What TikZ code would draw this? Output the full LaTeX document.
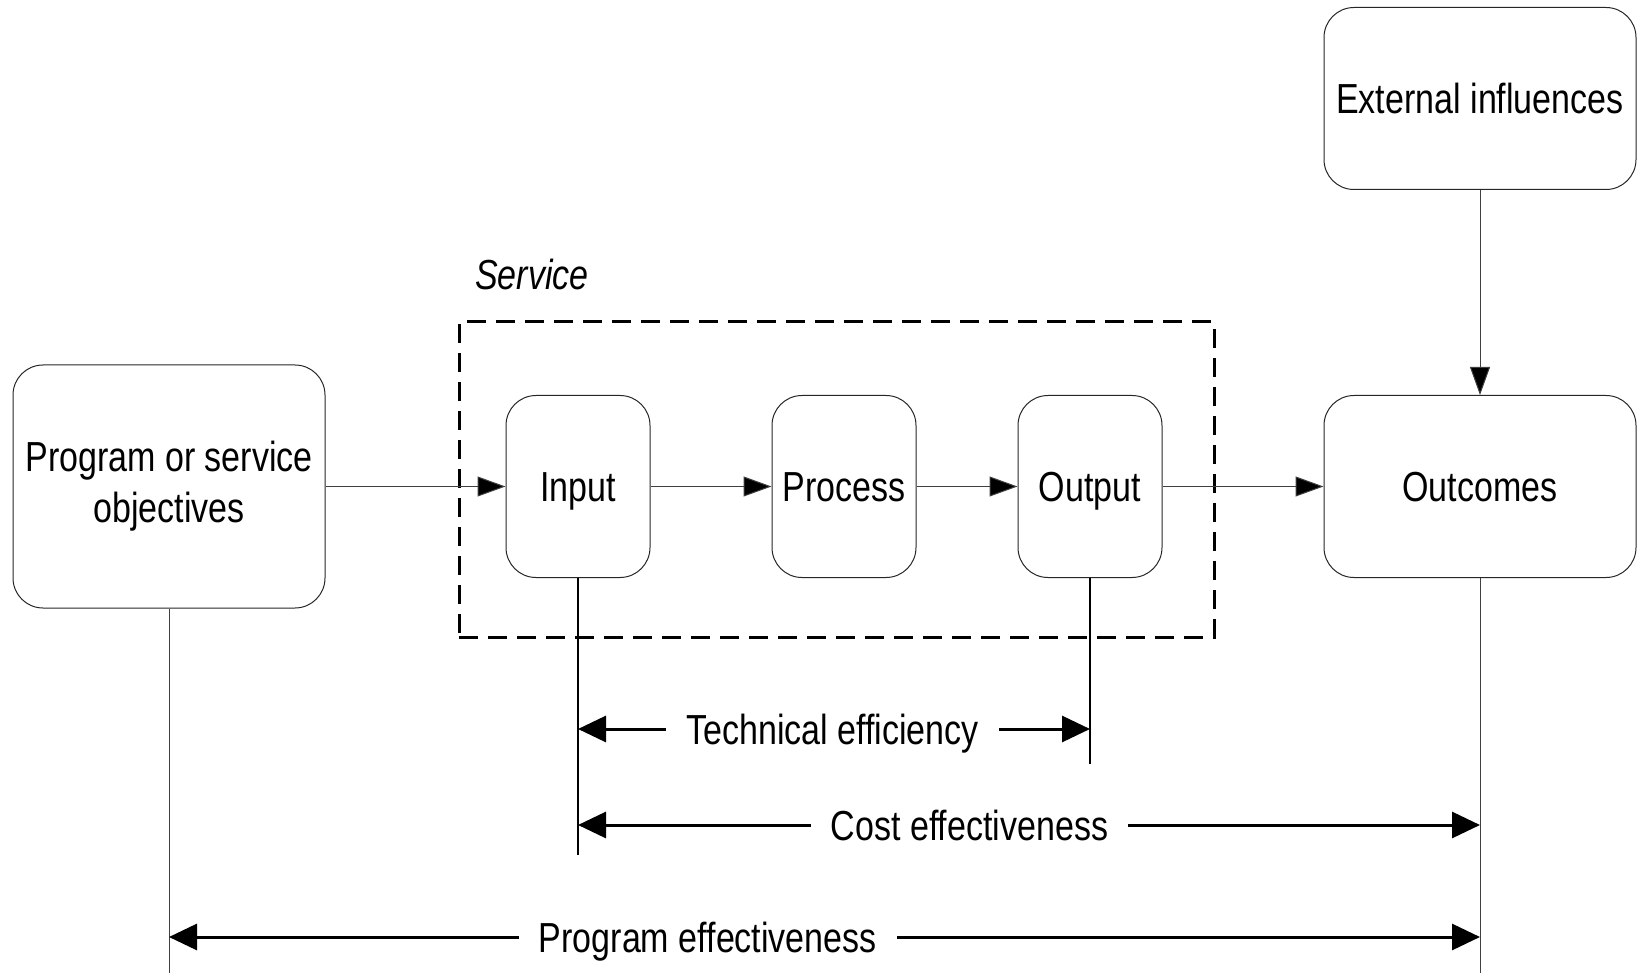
\documentclass[tikz,border=0pt]{standalone}
\usepackage{fontspec}
\setmainfont{Liberation Sans}[FakeStretch=0.81]
\usepackage{tikz}
\usetikzlibrary{arrows.meta,positioning}

\begin{document}
\begin{tikzpicture}[
  x=0.5pt, y=-0.5pt,
  font=\fontsize{21pt}{25.5pt}\selectfont,
  box/.style={draw=black!85, line width=0.5pt, rounded corners=15pt, align=center,
              minimum width=72pt, minimum height=91pt, inner sep=2pt},
  oneline/.style={text height=15pt, text depth=0pt},
  wide/.style={box, minimum width=156pt},
  arr/.style={-{Triangle[length=14pt,width=10pt,fill=black]}, draw=black!75, line width=0.5pt},
  link/.style={draw=black!75, line width=0.5pt},
  dim/.style={{Triangle[length=14pt,width=13pt]}-{Triangle[length=14pt,width=13pt]}, line width=1.5pt},
  lbl/.style={fill=white, inner xsep=10pt, inner ysep=2pt, oneline}
]
\useasboundingbox (0,0) rectangle (1645,973);

\node[wide, minimum height=121.5pt] (prog) at (169,486.5) {Program or service\\objectives};
\node[box, oneline, right=90pt of prog] (input) {Input};
\node[box, oneline, right=60.5pt of input] (process) {Process};
\node[box, oneline, right=50.5pt of process] (output) {Output};
\node[wide, oneline, right=80.5pt of output] (outcomes) {Outcomes};
\node[wide, oneline, above=102.5pt of outcomes] (external) {External influences};

% service boundary
\node[draw, dashed, line width=1.5pt, dash pattern=on 9.5pt off 5pt,
      minimum width=377.5pt, minimum height=157.5pt, inner sep=0pt] (service) at (836.5,479.5) {};
\node[font=\fontsize{21pt}{25.5pt}\selectfont\itshape, anchor=west] (servlbl) at (468,274) {Service};

\draw[arr] (prog) -- (input);
\draw[arr] (input) -- (process);
\draw[arr] (process) -- (output);
\draw[arr] (output) -- (outcomes);
\draw[arr] (external) -- (outcomes);

% extension lines
\coordinate (inbot) at (input.south |- 0,855);
\coordinate (outbot) at (output.south |- 0,764);
\coordinate (outcbot) at (outcomes.south |- 0,973);
\coordinate (progbot) at (prog.south |- 0,973);
\draw[line width=1pt] (input.south) -- (inbot);
\draw[line width=1pt] (output.south) -- (outbot);
\draw[link] (outcomes.south) -- (outcbot);
\draw[link] (prog.south) -- (progbot);

% measures
\draw[dim] (input.south |- 0,729) -- (output.south |- 0,729)
  node[lbl, pos=0.497] (techeff) {Technical efficiency};
\draw[dim] (input.south |- 0,825) -- (outcomes.south |- 0,825)
  node[lbl, pos=0.434] (costeff) {Cost effectiveness};
\draw[dim] (prog.south |- 0,937) -- (outcomes.south |- 0,937)
  node[lbl, pos=0.411] (progeff) {Program effectiveness};
\end{tikzpicture}
\end{document}
